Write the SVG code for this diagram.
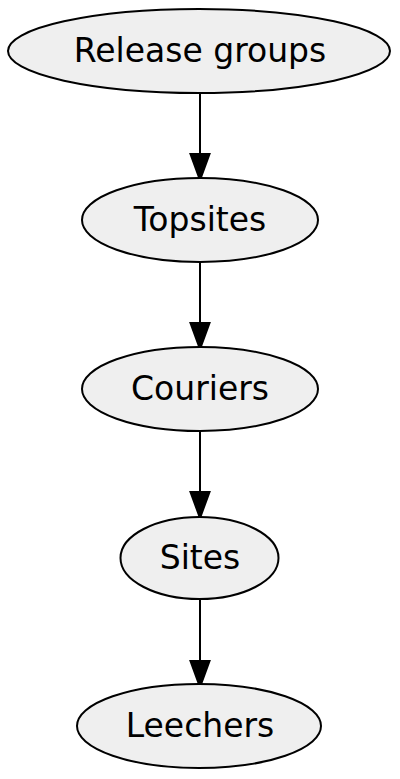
<svg xmlns="http://www.w3.org/2000/svg" width="400" height="779" viewBox="0 0 400 779">
<style>
.node ellipse{fill:#efefef;stroke:#000;stroke-width:2}
.node text{font-family:"DejaVu Sans",sans-serif;font-size:33px;text-anchor:middle;fill:#000}
.edge{stroke:#000;stroke-width:2;fill:none}
.head{fill:#000;stroke:#000;stroke-width:2}
</style>
<rect width="400" height="779" fill="#fff"/>
<g id="edges">
<line class="edge" x1="200" y1="93" x2="200" y2="156"/>
<polygon class="head" points="190.5,154 209.5,154 200,180"/>
<line class="edge" x1="200" y1="262" x2="200" y2="325"/>
<polygon class="head" points="190.5,323 209.5,323 200,349"/>
<line class="edge" x1="200" y1="431" x2="200" y2="494"/>
<polygon class="head" points="190.5,492 209.5,492 200,518"/>
<line class="edge" x1="200" y1="600" x2="200" y2="663"/>
<polygon class="head" points="190.5,661 209.5,661 200,687"/>
</g>
<g id="release" class="node"><ellipse cx="199" cy="51" rx="191" ry="42"/><text x="200" y="62">Release groups</text></g>
<g id="topsites" class="node"><ellipse cx="200" cy="220" rx="118" ry="42"/><text x="200" y="231">Topsites</text></g>
<g id="couriers" class="node"><ellipse cx="200" cy="389" rx="118" ry="42"/><text x="200" y="400">Couriers</text></g>
<g id="sites" class="node"><ellipse cx="199.5" cy="558" rx="79" ry="41"/><text x="200" y="569">Sites</text></g>
<g id="leechers" class="node"><ellipse cx="199" cy="726" rx="122" ry="42"/><text x="200" y="737">Leechers</text></g>
</svg>
